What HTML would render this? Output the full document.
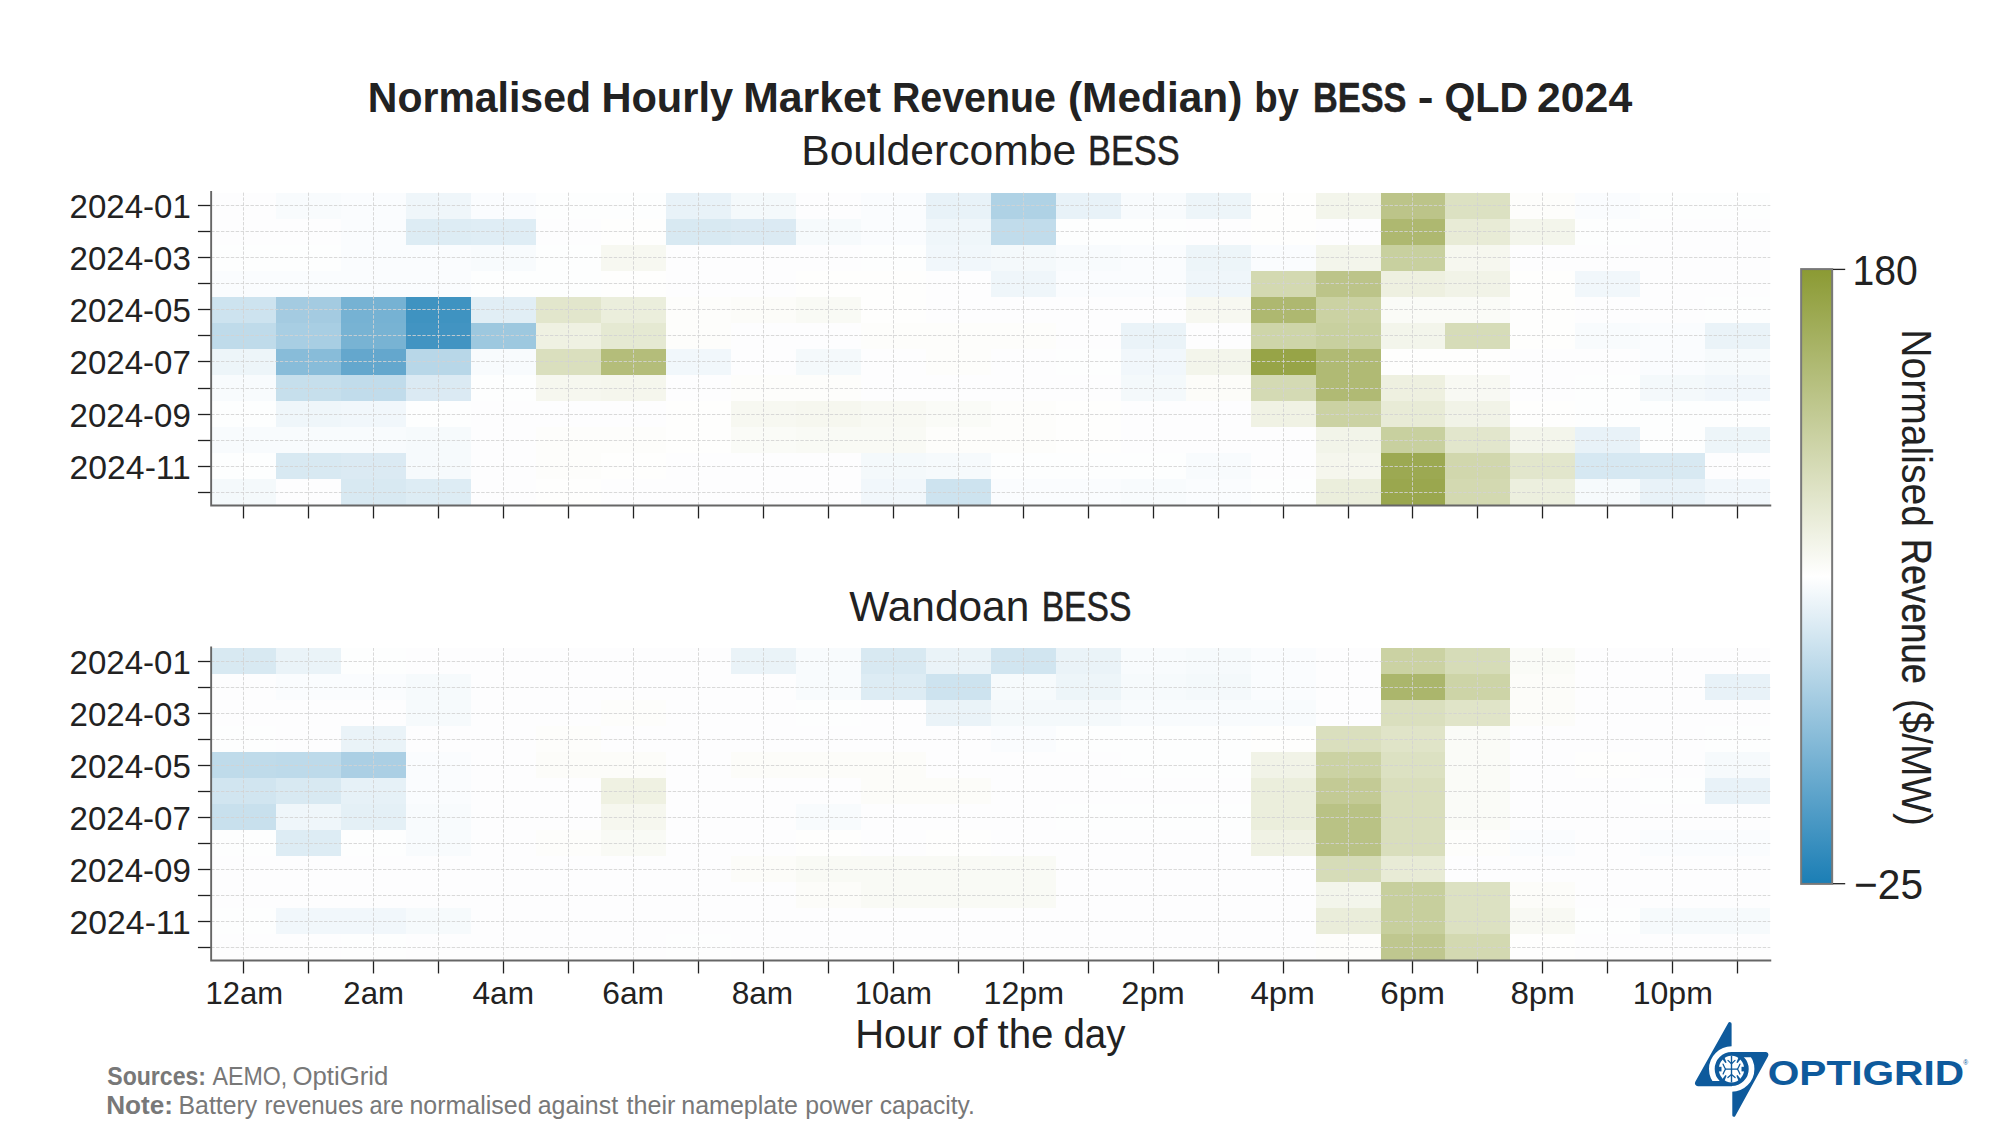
<!DOCTYPE html>
<html lang="en"><head><meta charset="utf-8">
<title>Normalised Hourly Market Revenue (Median) by BESS - QLD 2024</title>
<style>
html,body{margin:0;padding:0;background:#ffffff;}
body{width:2000px;height:1125px;overflow:hidden;}
svg{display:block;position:absolute;left:0;top:0;}
text{font-family:'Liberation Sans',sans-serif;fill:#222222;}
.grid line{stroke:#d2d2d2;stroke-opacity:0.9;stroke-width:0.95;stroke-dasharray:3.43 1.48;}
.tick line{stroke:#222222;stroke-width:1.3;}
.spine{stroke:#666666;stroke-width:1.9;fill:none;stroke-linecap:square;}
.foot{fill:#787878;}
</style></head><body>
<svg width="2000" height="1125" viewBox="0 0 2000 1125">
<defs>
<linearGradient id="cb" x1="0" y1="0" x2="0" y2="1">
<stop offset="0" stop-color="#8b9a33"/>
<stop offset="0.5" stop-color="#ffffff"/>
<stop offset="1" stop-color="#1b7eb5"/>
</linearGradient>
</defs>
<rect x="0" y="0" width="2000" height="1125" fill="#ffffff"/>
<text y="111.80" font-size="42" font-weight="bold"><tspan x="367.82" textLength="223.17" lengthAdjust="spacingAndGlyphs">Normalised</tspan> <tspan x="601.38" textLength="131.69" lengthAdjust="spacingAndGlyphs">Hourly</tspan> <tspan x="743.20" textLength="137.81" lengthAdjust="spacingAndGlyphs">Market</tspan> <tspan x="891.92" textLength="164.06" lengthAdjust="spacingAndGlyphs">Revenue</tspan> <tspan x="1067.98" textLength="174.40" lengthAdjust="spacingAndGlyphs">(Median)</tspan> <tspan x="1254.19" textLength="44.75" lengthAdjust="spacingAndGlyphs">by</tspan> <tspan x="1312.95" textLength="93.58" lengthAdjust="spacingAndGlyphs" stroke="#222222" stroke-width="0.43" stroke-linejoin="round">BESS</tspan> <tspan x="1417.83" textLength="15.73" lengthAdjust="spacingAndGlyphs">-</tspan> <tspan x="1444.55" textLength="83.65" lengthAdjust="spacingAndGlyphs">QLD</tspan> <tspan x="1537.07" textLength="95.12" lengthAdjust="spacingAndGlyphs">2024</tspan></text>
<text y="165.00" font-size="42.6"><tspan x="801.20" textLength="275.01" lengthAdjust="spacingAndGlyphs">Bouldercombe</tspan> <tspan x="1087.97" textLength="91.75" lengthAdjust="spacingAndGlyphs" stroke="#222222" stroke-width="0.46" stroke-linejoin="round">BESS</tspan></text>
<text y="620.60" font-size="42.6"><tspan x="849.25" textLength="180.00" lengthAdjust="spacingAndGlyphs">Wandoan</tspan> <tspan x="1041.63" textLength="89.86" lengthAdjust="spacingAndGlyphs" stroke="#222222" stroke-width="0.50" stroke-linejoin="round">BESS</tspan></text>
<text y="1048.00" font-size="40"><tspan x="855.25" textLength="86.65" lengthAdjust="spacingAndGlyphs">Hour</tspan> <tspan x="952.15" textLength="35.30" lengthAdjust="spacingAndGlyphs">of</tspan> <tspan x="997.50" textLength="55.97" lengthAdjust="spacingAndGlyphs">the</tspan> <tspan x="1063.52" textLength="61.92" lengthAdjust="spacingAndGlyphs">day</tspan></text>
<g class="heat" shape-rendering="crispEdges">
<rect x="211.15" y="192.60" width="1559.15" height="312.65" fill="#fdfdfe"/>
<rect x="276.11" y="192.60" width="64.96" height="26.05" fill="#f8fbfd"/>
<rect x="341.08" y="192.60" width="64.96" height="26.05" fill="#fafcfe"/>
<rect x="406.04" y="192.60" width="64.96" height="26.05" fill="#eff6fa"/>
<rect x="471.01" y="192.60" width="64.96" height="26.05" fill="#fafcfe"/>
<rect x="535.97" y="192.60" width="129.93" height="26.05" fill="#fdfefe"/>
<rect x="665.90" y="192.60" width="64.96" height="26.05" fill="#e8f2f8"/>
<rect x="730.87" y="192.60" width="64.96" height="26.05" fill="#f4f9fb"/>
<rect x="860.80" y="192.60" width="64.96" height="26.05" fill="#fafcfe"/>
<rect x="925.76" y="192.60" width="64.96" height="26.05" fill="#e8f2f8"/>
<rect x="990.72" y="192.60" width="64.96" height="26.05" fill="#afd2e5"/>
<rect x="1055.69" y="192.60" width="64.96" height="26.05" fill="#e8f2f8"/>
<rect x="1120.65" y="192.60" width="64.96" height="26.05" fill="#f8fbfd"/>
<rect x="1185.62" y="192.60" width="64.96" height="26.05" fill="#edf5f9"/>
<rect x="1250.58" y="192.60" width="64.96" height="26.05" fill="#fefefd"/>
<rect x="1315.55" y="192.60" width="64.96" height="26.05" fill="#f3f5eb"/>
<rect x="1380.51" y="192.60" width="64.96" height="26.05" fill="#bcc489"/>
<rect x="1445.48" y="192.60" width="64.96" height="26.05" fill="#dce1c2"/>
<rect x="1510.44" y="192.60" width="64.96" height="26.05" fill="#fdfdfb"/>
<rect x="1575.41" y="192.60" width="64.96" height="26.05" fill="#fafcfe"/>
<rect x="1640.37" y="192.60" width="129.93" height="26.05" fill="#fdfefe"/>
<rect x="341.08" y="218.65" width="64.96" height="26.05" fill="#fafcfe"/>
<rect x="406.04" y="218.65" width="64.96" height="26.05" fill="#ddecf4"/>
<rect x="471.01" y="218.65" width="64.96" height="26.05" fill="#dfedf5"/>
<rect x="600.94" y="218.65" width="64.96" height="26.05" fill="#fefefd"/>
<rect x="665.90" y="218.65" width="64.96" height="26.05" fill="#d8e9f2"/>
<rect x="730.87" y="218.65" width="64.96" height="26.05" fill="#dbeaf3"/>
<rect x="795.83" y="218.65" width="64.96" height="26.05" fill="#f6fafc"/>
<rect x="860.80" y="218.65" width="64.96" height="26.05" fill="#fafcfe"/>
<rect x="925.76" y="218.65" width="64.96" height="26.05" fill="#eff6fa"/>
<rect x="990.72" y="218.65" width="64.96" height="26.05" fill="#c1dceb"/>
<rect x="1055.69" y="218.65" width="129.93" height="26.05" fill="#fdfefe"/>
<rect x="1250.58" y="218.65" width="64.96" height="26.05" fill="#fefefd"/>
<rect x="1380.51" y="218.65" width="64.96" height="26.05" fill="#aeb870"/>
<rect x="1445.48" y="218.65" width="64.96" height="26.05" fill="#e8ebd6"/>
<rect x="1510.44" y="218.65" width="64.96" height="26.05" fill="#f3f5eb"/>
<rect x="1575.41" y="218.65" width="64.96" height="26.05" fill="#fdfefe"/>
<rect x="211.15" y="244.71" width="129.93" height="26.05" fill="#fdfefe"/>
<rect x="341.08" y="244.71" width="129.93" height="26.05" fill="#fafcfe"/>
<rect x="471.01" y="244.71" width="64.96" height="26.05" fill="#f8fbfd"/>
<rect x="535.97" y="244.71" width="64.96" height="26.05" fill="#fdfefe"/>
<rect x="600.94" y="244.71" width="64.96" height="26.05" fill="#f7f8f1"/>
<rect x="860.80" y="244.71" width="64.96" height="26.05" fill="#fdfefe"/>
<rect x="925.76" y="244.71" width="64.96" height="26.05" fill="#f1f7fb"/>
<rect x="990.72" y="244.71" width="64.96" height="26.05" fill="#f4f9fb"/>
<rect x="1055.69" y="244.71" width="64.96" height="26.05" fill="#f8fbfd"/>
<rect x="1120.65" y="244.71" width="64.96" height="26.05" fill="#fafcfe"/>
<rect x="1185.62" y="244.71" width="64.96" height="26.05" fill="#edf5f9"/>
<rect x="1250.58" y="244.71" width="64.96" height="26.05" fill="#fafcfe"/>
<rect x="1315.55" y="244.71" width="64.96" height="26.05" fill="#f3f5eb"/>
<rect x="1380.51" y="244.71" width="64.96" height="26.05" fill="#c8d09f"/>
<rect x="1445.48" y="244.71" width="64.96" height="26.05" fill="#f6f7ef"/>
<rect x="211.15" y="270.76" width="259.86" height="26.05" fill="#fafcfe"/>
<rect x="471.01" y="270.76" width="129.93" height="26.05" fill="#fdfefe"/>
<rect x="600.94" y="270.76" width="64.96" height="26.05" fill="#fefefd"/>
<rect x="795.83" y="270.76" width="129.93" height="26.05" fill="#fefefd"/>
<rect x="990.72" y="270.76" width="64.96" height="26.05" fill="#eff6fa"/>
<rect x="1055.69" y="270.76" width="129.93" height="26.05" fill="#fafcfe"/>
<rect x="1185.62" y="270.76" width="64.96" height="26.05" fill="#eff6fa"/>
<rect x="1250.58" y="270.76" width="64.96" height="26.05" fill="#d3d9b1"/>
<rect x="1315.55" y="270.76" width="64.96" height="26.05" fill="#bcc489"/>
<rect x="1380.51" y="270.76" width="64.96" height="26.05" fill="#eef0e0"/>
<rect x="1445.48" y="270.76" width="64.96" height="26.05" fill="#f1f3e7"/>
<rect x="1510.44" y="270.76" width="64.96" height="26.05" fill="#fefefd"/>
<rect x="1575.41" y="270.76" width="64.96" height="26.05" fill="#f1f7fb"/>
<rect x="211.15" y="296.82" width="64.96" height="26.05" fill="#cde3ef"/>
<rect x="276.11" y="296.82" width="64.96" height="26.05" fill="#a4cbe1"/>
<rect x="341.08" y="296.82" width="64.96" height="26.05" fill="#76b2d3"/>
<rect x="406.04" y="296.82" width="64.96" height="26.05" fill="#3f93c1"/>
<rect x="471.01" y="296.82" width="64.96" height="26.05" fill="#e1eef5"/>
<rect x="535.97" y="296.82" width="64.96" height="26.05" fill="#e2e6cc"/>
<rect x="600.94" y="296.82" width="64.96" height="26.05" fill="#ebeedc"/>
<rect x="665.90" y="296.82" width="64.96" height="26.05" fill="#fdfdfb"/>
<rect x="730.87" y="296.82" width="64.96" height="26.05" fill="#fcfcf9"/>
<rect x="795.83" y="296.82" width="64.96" height="26.05" fill="#f9faf5"/>
<rect x="860.80" y="296.82" width="64.96" height="26.05" fill="#fefefd"/>
<rect x="1185.62" y="296.82" width="64.96" height="26.05" fill="#f7f8f1"/>
<rect x="1250.58" y="296.82" width="64.96" height="26.05" fill="#aeb870"/>
<rect x="1315.55" y="296.82" width="64.96" height="26.05" fill="#cbd2a3"/>
<rect x="1380.51" y="296.82" width="129.93" height="26.05" fill="#fafbf7"/>
<rect x="1510.44" y="296.82" width="64.96" height="26.05" fill="#fefefd"/>
<rect x="1705.34" y="296.82" width="64.96" height="26.05" fill="#fdfefe"/>
<rect x="211.15" y="322.87" width="64.96" height="26.05" fill="#bfdbea"/>
<rect x="276.11" y="322.87" width="64.96" height="26.05" fill="#a8cee3"/>
<rect x="341.08" y="322.87" width="64.96" height="26.05" fill="#78b3d3"/>
<rect x="406.04" y="322.87" width="64.96" height="26.05" fill="#4294c2"/>
<rect x="471.01" y="322.87" width="64.96" height="26.05" fill="#9dc8df"/>
<rect x="535.97" y="322.87" width="64.96" height="26.05" fill="#eff1e2"/>
<rect x="600.94" y="322.87" width="64.96" height="26.05" fill="#e5e9d2"/>
<rect x="665.90" y="322.87" width="64.96" height="26.05" fill="#fdfdfb"/>
<rect x="860.80" y="322.87" width="194.89" height="26.05" fill="#fdfdfb"/>
<rect x="1120.65" y="322.87" width="64.96" height="26.05" fill="#eaf3f8"/>
<rect x="1250.58" y="322.87" width="64.96" height="26.05" fill="#ced5a9"/>
<rect x="1315.55" y="322.87" width="64.96" height="26.05" fill="#c8d09f"/>
<rect x="1380.51" y="322.87" width="64.96" height="26.05" fill="#f3f5eb"/>
<rect x="1445.48" y="322.87" width="64.96" height="26.05" fill="#d6dcb8"/>
<rect x="1510.44" y="322.87" width="64.96" height="26.05" fill="#fefefd"/>
<rect x="1575.41" y="322.87" width="64.96" height="26.05" fill="#f8fbfd"/>
<rect x="1640.37" y="322.87" width="64.96" height="26.05" fill="#fafcfe"/>
<rect x="1705.34" y="322.87" width="64.96" height="26.05" fill="#eaf3f8"/>
<rect x="211.15" y="348.92" width="64.96" height="26.05" fill="#edf5f9"/>
<rect x="276.11" y="348.92" width="64.96" height="26.05" fill="#88bcd9"/>
<rect x="341.08" y="348.92" width="64.96" height="26.05" fill="#64a7cd"/>
<rect x="406.04" y="348.92" width="64.96" height="26.05" fill="#b8d7e8"/>
<rect x="471.01" y="348.92" width="64.96" height="26.05" fill="#f8fbfd"/>
<rect x="535.97" y="348.92" width="64.96" height="26.05" fill="#dadfbe"/>
<rect x="600.94" y="348.92" width="64.96" height="26.05" fill="#b4bd7a"/>
<rect x="665.90" y="348.92" width="64.96" height="26.05" fill="#f1f7fb"/>
<rect x="795.83" y="348.92" width="64.96" height="26.05" fill="#f4f9fb"/>
<rect x="925.76" y="348.92" width="64.96" height="26.05" fill="#fdfdfb"/>
<rect x="1055.69" y="348.92" width="64.96" height="26.05" fill="#fdfefe"/>
<rect x="1120.65" y="348.92" width="64.96" height="26.05" fill="#f1f7fb"/>
<rect x="1185.62" y="348.92" width="64.96" height="26.05" fill="#f3f5eb"/>
<rect x="1250.58" y="348.92" width="64.96" height="26.05" fill="#97a447"/>
<rect x="1315.55" y="348.92" width="64.96" height="26.05" fill="#b0ba74"/>
<rect x="1380.51" y="348.92" width="129.93" height="26.05" fill="#fefefd"/>
<rect x="1640.37" y="348.92" width="64.96" height="26.05" fill="#fafcfe"/>
<rect x="1705.34" y="348.92" width="64.96" height="26.05" fill="#f6fafc"/>
<rect x="211.15" y="374.98" width="64.96" height="26.05" fill="#f8fbfd"/>
<rect x="276.11" y="374.98" width="64.96" height="26.05" fill="#c6dfec"/>
<rect x="341.08" y="374.98" width="64.96" height="26.05" fill="#c1dceb"/>
<rect x="406.04" y="374.98" width="64.96" height="26.05" fill="#dbeaf3"/>
<rect x="471.01" y="374.98" width="64.96" height="26.05" fill="#fdfefe"/>
<rect x="535.97" y="374.98" width="64.96" height="26.05" fill="#f6f7ef"/>
<rect x="600.94" y="374.98" width="64.96" height="26.05" fill="#f5f6ed"/>
<rect x="730.87" y="374.98" width="129.93" height="26.05" fill="#fdfdfb"/>
<rect x="1120.65" y="374.98" width="64.96" height="26.05" fill="#f4f9fb"/>
<rect x="1185.62" y="374.98" width="64.96" height="26.05" fill="#fcfcf9"/>
<rect x="1250.58" y="374.98" width="64.96" height="26.05" fill="#d4dab4"/>
<rect x="1315.55" y="374.98" width="64.96" height="26.05" fill="#b0ba74"/>
<rect x="1380.51" y="374.98" width="64.96" height="26.05" fill="#eef0e0"/>
<rect x="1445.48" y="374.98" width="64.96" height="26.05" fill="#f8f9f3"/>
<rect x="1575.41" y="374.98" width="64.96" height="26.05" fill="#fdfefe"/>
<rect x="1640.37" y="374.98" width="64.96" height="26.05" fill="#f4f9fb"/>
<rect x="1705.34" y="374.98" width="64.96" height="26.05" fill="#f1f7fb"/>
<rect x="211.15" y="401.03" width="64.96" height="26.05" fill="#fdfefe"/>
<rect x="276.11" y="401.03" width="64.96" height="26.05" fill="#eff6fa"/>
<rect x="341.08" y="401.03" width="64.96" height="26.05" fill="#f1f7fb"/>
<rect x="406.04" y="401.03" width="64.96" height="26.05" fill="#fdfefe"/>
<rect x="665.90" y="401.03" width="64.96" height="26.05" fill="#fefefd"/>
<rect x="730.87" y="401.03" width="64.96" height="26.05" fill="#f7f8f1"/>
<rect x="795.83" y="401.03" width="64.96" height="26.05" fill="#f6f7ef"/>
<rect x="860.80" y="401.03" width="64.96" height="26.05" fill="#f8f9f3"/>
<rect x="925.76" y="401.03" width="64.96" height="26.05" fill="#fafbf7"/>
<rect x="990.72" y="401.03" width="64.96" height="26.05" fill="#fdfdfb"/>
<rect x="1055.69" y="401.03" width="64.96" height="26.05" fill="#fefefd"/>
<rect x="1250.58" y="401.03" width="64.96" height="26.05" fill="#f0f2e4"/>
<rect x="1315.55" y="401.03" width="64.96" height="26.05" fill="#cbd2a3"/>
<rect x="1380.51" y="401.03" width="64.96" height="26.05" fill="#e8ebd6"/>
<rect x="1445.48" y="401.03" width="64.96" height="26.05" fill="#f1f3e7"/>
<rect x="1510.44" y="401.03" width="64.96" height="26.05" fill="#fefefd"/>
<rect x="1575.41" y="401.03" width="194.89" height="26.05" fill="#fdfefe"/>
<rect x="211.15" y="427.09" width="194.89" height="26.05" fill="#f8fbfd"/>
<rect x="406.04" y="427.09" width="64.96" height="26.05" fill="#f6fafc"/>
<rect x="535.97" y="427.09" width="129.93" height="26.05" fill="#fdfdfb"/>
<rect x="665.90" y="427.09" width="64.96" height="26.05" fill="#fefefd"/>
<rect x="730.87" y="427.09" width="64.96" height="26.05" fill="#fafbf7"/>
<rect x="795.83" y="427.09" width="129.93" height="26.05" fill="#f9faf5"/>
<rect x="925.76" y="427.09" width="129.93" height="26.05" fill="#fdfdfb"/>
<rect x="1055.69" y="427.09" width="64.96" height="26.05" fill="#fefefd"/>
<rect x="1315.55" y="427.09" width="64.96" height="26.05" fill="#f2f4e9"/>
<rect x="1380.51" y="427.09" width="64.96" height="26.05" fill="#c8d09f"/>
<rect x="1445.48" y="427.09" width="64.96" height="26.05" fill="#e2e6cc"/>
<rect x="1510.44" y="427.09" width="64.96" height="26.05" fill="#f3f5eb"/>
<rect x="1575.41" y="427.09" width="64.96" height="26.05" fill="#e8f2f8"/>
<rect x="1640.37" y="427.09" width="64.96" height="26.05" fill="#fdfefe"/>
<rect x="1705.34" y="427.09" width="64.96" height="26.05" fill="#edf5f9"/>
<rect x="211.15" y="453.14" width="64.96" height="26.05" fill="#fdfefe"/>
<rect x="276.11" y="453.14" width="64.96" height="26.05" fill="#d8e9f2"/>
<rect x="341.08" y="453.14" width="64.96" height="26.05" fill="#dbeaf3"/>
<rect x="406.04" y="453.14" width="64.96" height="26.05" fill="#f6fafc"/>
<rect x="535.97" y="453.14" width="64.96" height="26.05" fill="#fdfdfb"/>
<rect x="600.94" y="453.14" width="64.96" height="26.05" fill="#fefefd"/>
<rect x="860.80" y="453.14" width="64.96" height="26.05" fill="#f4f9fb"/>
<rect x="925.76" y="453.14" width="64.96" height="26.05" fill="#f6fafc"/>
<rect x="990.72" y="453.14" width="194.89" height="26.05" fill="#fdfefe"/>
<rect x="1185.62" y="453.14" width="64.96" height="26.05" fill="#f8fbfd"/>
<rect x="1315.55" y="453.14" width="64.96" height="26.05" fill="#f5f6ed"/>
<rect x="1380.51" y="453.14" width="64.96" height="26.05" fill="#9ca952"/>
<rect x="1445.48" y="453.14" width="64.96" height="26.05" fill="#d1d7ad"/>
<rect x="1510.44" y="453.14" width="64.96" height="26.05" fill="#e2e6cc"/>
<rect x="1575.41" y="453.14" width="64.96" height="26.05" fill="#d6e8f2"/>
<rect x="1640.37" y="453.14" width="64.96" height="26.05" fill="#d8e9f2"/>
<rect x="211.15" y="479.20" width="64.96" height="26.05" fill="#f4f9fb"/>
<rect x="341.08" y="479.20" width="64.96" height="26.05" fill="#d8e9f2"/>
<rect x="406.04" y="479.20" width="64.96" height="26.05" fill="#ddecf4"/>
<rect x="535.97" y="479.20" width="64.96" height="26.05" fill="#fefefd"/>
<rect x="860.80" y="479.20" width="64.96" height="26.05" fill="#f1f7fb"/>
<rect x="925.76" y="479.20" width="64.96" height="26.05" fill="#cde3ef"/>
<rect x="990.72" y="479.20" width="129.93" height="26.05" fill="#fafcfe"/>
<rect x="1120.65" y="479.20" width="64.96" height="26.05" fill="#f8fbfd"/>
<rect x="1185.62" y="479.20" width="64.96" height="26.05" fill="#fafcfe"/>
<rect x="1250.58" y="479.20" width="64.96" height="26.05" fill="#fdfefe"/>
<rect x="1315.55" y="479.20" width="64.96" height="26.05" fill="#ebeedc"/>
<rect x="1380.51" y="479.20" width="64.96" height="26.05" fill="#9aa74e"/>
<rect x="1445.48" y="479.20" width="64.96" height="26.05" fill="#d3d9b1"/>
<rect x="1510.44" y="479.20" width="64.96" height="26.05" fill="#ecefde"/>
<rect x="1575.41" y="479.20" width="64.96" height="26.05" fill="#f6fafc"/>
<rect x="1640.37" y="479.20" width="64.96" height="26.05" fill="#e8f2f8"/>
<rect x="1705.34" y="479.20" width="64.96" height="26.05" fill="#f1f7fb"/>
</g>
<g class="grid">
<line x1="243.50" y1="505.25" x2="243.50" y2="192.60"/>
<line x1="308.50" y1="505.25" x2="308.50" y2="192.60"/>
<line x1="373.50" y1="505.25" x2="373.50" y2="192.60"/>
<line x1="438.50" y1="505.25" x2="438.50" y2="192.60"/>
<line x1="503.50" y1="505.25" x2="503.50" y2="192.60"/>
<line x1="568.50" y1="505.25" x2="568.50" y2="192.60"/>
<line x1="633.50" y1="505.25" x2="633.50" y2="192.60"/>
<line x1="698.50" y1="505.25" x2="698.50" y2="192.60"/>
<line x1="763.50" y1="505.25" x2="763.50" y2="192.60"/>
<line x1="828.50" y1="505.25" x2="828.50" y2="192.60"/>
<line x1="893.50" y1="505.25" x2="893.50" y2="192.60"/>
<line x1="958.50" y1="505.25" x2="958.50" y2="192.60"/>
<line x1="1023.50" y1="505.25" x2="1023.50" y2="192.60"/>
<line x1="1088.50" y1="505.25" x2="1088.50" y2="192.60"/>
<line x1="1153.50" y1="505.25" x2="1153.50" y2="192.60"/>
<line x1="1218.50" y1="505.25" x2="1218.50" y2="192.60"/>
<line x1="1283.50" y1="505.25" x2="1283.50" y2="192.60"/>
<line x1="1348.50" y1="505.25" x2="1348.50" y2="192.60"/>
<line x1="1412.50" y1="505.25" x2="1412.50" y2="192.60"/>
<line x1="1477.50" y1="505.25" x2="1477.50" y2="192.60"/>
<line x1="1542.50" y1="505.25" x2="1542.50" y2="192.60"/>
<line x1="1607.50" y1="505.25" x2="1607.50" y2="192.60"/>
<line x1="1672.50" y1="505.25" x2="1672.50" y2="192.60"/>
<line x1="1737.50" y1="505.25" x2="1737.50" y2="192.60"/>
<line x1="211.15" y1="205.50" x2="1770.30" y2="205.50"/>
<line x1="211.15" y1="231.50" x2="1770.30" y2="231.50"/>
<line x1="211.15" y1="257.50" x2="1770.30" y2="257.50"/>
<line x1="211.15" y1="283.50" x2="1770.30" y2="283.50"/>
<line x1="211.15" y1="309.50" x2="1770.30" y2="309.50"/>
<line x1="211.15" y1="335.50" x2="1770.30" y2="335.50"/>
<line x1="211.15" y1="361.50" x2="1770.30" y2="361.50"/>
<line x1="211.15" y1="388.50" x2="1770.30" y2="388.50"/>
<line x1="211.15" y1="414.50" x2="1770.30" y2="414.50"/>
<line x1="211.15" y1="440.50" x2="1770.30" y2="440.50"/>
<line x1="211.15" y1="466.50" x2="1770.30" y2="466.50"/>
<line x1="211.15" y1="492.50" x2="1770.30" y2="492.50"/>
</g>
<g class="tick">
<line x1="243.50" y1="505.25" x2="243.50" y2="518.45"/>
<line x1="308.50" y1="505.25" x2="308.50" y2="518.45"/>
<line x1="373.50" y1="505.25" x2="373.50" y2="518.45"/>
<line x1="438.50" y1="505.25" x2="438.50" y2="518.45"/>
<line x1="503.50" y1="505.25" x2="503.50" y2="518.45"/>
<line x1="568.50" y1="505.25" x2="568.50" y2="518.45"/>
<line x1="633.50" y1="505.25" x2="633.50" y2="518.45"/>
<line x1="698.50" y1="505.25" x2="698.50" y2="518.45"/>
<line x1="763.50" y1="505.25" x2="763.50" y2="518.45"/>
<line x1="828.50" y1="505.25" x2="828.50" y2="518.45"/>
<line x1="893.50" y1="505.25" x2="893.50" y2="518.45"/>
<line x1="958.50" y1="505.25" x2="958.50" y2="518.45"/>
<line x1="1023.50" y1="505.25" x2="1023.50" y2="518.45"/>
<line x1="1088.50" y1="505.25" x2="1088.50" y2="518.45"/>
<line x1="1153.50" y1="505.25" x2="1153.50" y2="518.45"/>
<line x1="1218.50" y1="505.25" x2="1218.50" y2="518.45"/>
<line x1="1283.50" y1="505.25" x2="1283.50" y2="518.45"/>
<line x1="1348.50" y1="505.25" x2="1348.50" y2="518.45"/>
<line x1="1412.50" y1="505.25" x2="1412.50" y2="518.45"/>
<line x1="1477.50" y1="505.25" x2="1477.50" y2="518.45"/>
<line x1="1542.50" y1="505.25" x2="1542.50" y2="518.45"/>
<line x1="1607.50" y1="505.25" x2="1607.50" y2="518.45"/>
<line x1="1672.50" y1="505.25" x2="1672.50" y2="518.45"/>
<line x1="1737.50" y1="505.25" x2="1737.50" y2="518.45"/>
<line x1="197.95" y1="205.50" x2="211.15" y2="205.50"/>
<line x1="197.95" y1="231.50" x2="211.15" y2="231.50"/>
<line x1="197.95" y1="257.50" x2="211.15" y2="257.50"/>
<line x1="197.95" y1="283.50" x2="211.15" y2="283.50"/>
<line x1="197.95" y1="309.50" x2="211.15" y2="309.50"/>
<line x1="197.95" y1="335.50" x2="211.15" y2="335.50"/>
<line x1="197.95" y1="361.50" x2="211.15" y2="361.50"/>
<line x1="197.95" y1="388.50" x2="211.15" y2="388.50"/>
<line x1="197.95" y1="414.50" x2="211.15" y2="414.50"/>
<line x1="197.95" y1="440.50" x2="211.15" y2="440.50"/>
<line x1="197.95" y1="466.50" x2="211.15" y2="466.50"/>
<line x1="197.95" y1="492.50" x2="211.15" y2="492.50"/>
</g>
<path class="spine" d="M211.15 192.00V505.50H1770.30"/>
<g class="ylab">
<text x="69.60" y="218.13" font-size="34.00" textLength="121.29" lengthAdjust="spacingAndGlyphs">2024-01</text>
<text x="69.60" y="270.24" font-size="34.00" textLength="121.29" lengthAdjust="spacingAndGlyphs">2024-03</text>
<text x="69.60" y="322.34" font-size="34.00" textLength="121.29" lengthAdjust="spacingAndGlyphs">2024-05</text>
<text x="69.60" y="374.45" font-size="34.00" textLength="121.29" lengthAdjust="spacingAndGlyphs">2024-07</text>
<text x="69.60" y="426.56" font-size="34.00" textLength="121.29" lengthAdjust="spacingAndGlyphs">2024-09</text>
<text x="69.60" y="478.67" font-size="34.00" textLength="121.29" lengthAdjust="spacingAndGlyphs">2024-11</text>
</g>
<g class="heat" shape-rendering="crispEdges">
<rect x="211.15" y="648.00" width="1559.15" height="312.25" fill="#fdfdfe"/>
<rect x="211.15" y="648.00" width="64.96" height="26.02" fill="#d8e9f2"/>
<rect x="276.11" y="648.00" width="64.96" height="26.02" fill="#eaf3f8"/>
<rect x="341.08" y="648.00" width="64.96" height="26.02" fill="#fdfefe"/>
<rect x="730.87" y="648.00" width="64.96" height="26.02" fill="#eaf3f8"/>
<rect x="795.83" y="648.00" width="64.96" height="26.02" fill="#f8fbfd"/>
<rect x="860.80" y="648.00" width="64.96" height="26.02" fill="#d8e9f2"/>
<rect x="925.76" y="648.00" width="64.96" height="26.02" fill="#eaf3f8"/>
<rect x="990.72" y="648.00" width="64.96" height="26.02" fill="#d1e5f0"/>
<rect x="1055.69" y="648.00" width="64.96" height="26.02" fill="#eaf3f8"/>
<rect x="1120.65" y="648.00" width="64.96" height="26.02" fill="#f8fbfd"/>
<rect x="1185.62" y="648.00" width="64.96" height="26.02" fill="#f6fafc"/>
<rect x="1250.58" y="648.00" width="64.96" height="26.02" fill="#fafcfe"/>
<rect x="1380.51" y="648.00" width="64.96" height="26.02" fill="#cbd2a3"/>
<rect x="1445.48" y="648.00" width="64.96" height="26.02" fill="#d6dcb8"/>
<rect x="1510.44" y="648.00" width="64.96" height="26.02" fill="#fafbf7"/>
<rect x="276.11" y="674.02" width="129.93" height="26.02" fill="#fafcfe"/>
<rect x="406.04" y="674.02" width="64.96" height="26.02" fill="#f6fafc"/>
<rect x="795.83" y="674.02" width="64.96" height="26.02" fill="#f8fbfd"/>
<rect x="860.80" y="674.02" width="64.96" height="26.02" fill="#ddecf4"/>
<rect x="925.76" y="674.02" width="64.96" height="26.02" fill="#cde3ef"/>
<rect x="990.72" y="674.02" width="64.96" height="26.02" fill="#f6fafc"/>
<rect x="1055.69" y="674.02" width="64.96" height="26.02" fill="#edf5f9"/>
<rect x="1120.65" y="674.02" width="64.96" height="26.02" fill="#f6fafc"/>
<rect x="1185.62" y="674.02" width="64.96" height="26.02" fill="#f4f9fb"/>
<rect x="1250.58" y="674.02" width="64.96" height="26.02" fill="#fafcfe"/>
<rect x="1380.51" y="674.02" width="64.96" height="26.02" fill="#abb66c"/>
<rect x="1445.48" y="674.02" width="64.96" height="26.02" fill="#cdd4a7"/>
<rect x="1510.44" y="674.02" width="64.96" height="26.02" fill="#fcfcf9"/>
<rect x="1705.34" y="674.02" width="64.96" height="26.02" fill="#e8f2f8"/>
<rect x="406.04" y="700.04" width="64.96" height="26.02" fill="#f6fafc"/>
<rect x="600.94" y="700.04" width="64.96" height="26.02" fill="#fdfdfb"/>
<rect x="795.83" y="700.04" width="64.96" height="26.02" fill="#fdfefe"/>
<rect x="925.76" y="700.04" width="64.96" height="26.02" fill="#eaf3f8"/>
<rect x="990.72" y="700.04" width="129.93" height="26.02" fill="#f4f9fb"/>
<rect x="1120.65" y="700.04" width="194.89" height="26.02" fill="#f8fbfd"/>
<rect x="1380.51" y="700.04" width="64.96" height="26.02" fill="#dadfbe"/>
<rect x="1445.48" y="700.04" width="64.96" height="26.02" fill="#e0e4c8"/>
<rect x="1510.44" y="700.04" width="64.96" height="26.02" fill="#fcfcf9"/>
<rect x="211.15" y="726.06" width="64.96" height="26.02" fill="#fdfefe"/>
<rect x="341.08" y="726.06" width="64.96" height="26.02" fill="#eaf3f8"/>
<rect x="535.97" y="726.06" width="64.96" height="26.02" fill="#fdfdfb"/>
<rect x="990.72" y="726.06" width="64.96" height="26.02" fill="#fafcfe"/>
<rect x="1055.69" y="726.06" width="194.89" height="26.02" fill="#fdfefe"/>
<rect x="1250.58" y="726.06" width="64.96" height="26.02" fill="#fefefd"/>
<rect x="1315.55" y="726.06" width="64.96" height="26.02" fill="#dadfbe"/>
<rect x="1380.51" y="726.06" width="64.96" height="26.02" fill="#e0e4c8"/>
<rect x="1445.48" y="726.06" width="64.96" height="26.02" fill="#fafbf7"/>
<rect x="1705.34" y="726.06" width="64.96" height="26.02" fill="#fdfefe"/>
<rect x="211.15" y="752.08" width="64.96" height="26.02" fill="#bfdbea"/>
<rect x="276.11" y="752.08" width="64.96" height="26.02" fill="#bddaea"/>
<rect x="341.08" y="752.08" width="64.96" height="26.02" fill="#abcfe4"/>
<rect x="406.04" y="752.08" width="64.96" height="26.02" fill="#fafcfe"/>
<rect x="535.97" y="752.08" width="129.93" height="26.02" fill="#fcfcf9"/>
<rect x="730.87" y="752.08" width="194.89" height="26.02" fill="#fcfcf9"/>
<rect x="1120.65" y="752.08" width="129.93" height="26.02" fill="#fdfefe"/>
<rect x="1250.58" y="752.08" width="64.96" height="26.02" fill="#f1f3e7"/>
<rect x="1315.55" y="752.08" width="64.96" height="26.02" fill="#cbd2a3"/>
<rect x="1380.51" y="752.08" width="64.96" height="26.02" fill="#dce1c2"/>
<rect x="1445.48" y="752.08" width="64.96" height="26.02" fill="#fafbf7"/>
<rect x="1575.41" y="752.08" width="64.96" height="26.02" fill="#fefefd"/>
<rect x="1705.34" y="752.08" width="64.96" height="26.02" fill="#f6fafc"/>
<rect x="211.15" y="778.10" width="64.96" height="26.02" fill="#d1e5f0"/>
<rect x="276.11" y="778.10" width="64.96" height="26.02" fill="#d8e9f2"/>
<rect x="341.08" y="778.10" width="64.96" height="26.02" fill="#e6f1f7"/>
<rect x="406.04" y="778.10" width="64.96" height="26.02" fill="#fafcfe"/>
<rect x="600.94" y="778.10" width="64.96" height="26.02" fill="#eff1e2"/>
<rect x="860.80" y="778.10" width="129.93" height="26.02" fill="#fcfcf9"/>
<rect x="1250.58" y="778.10" width="64.96" height="26.02" fill="#ebeedc"/>
<rect x="1315.55" y="778.10" width="64.96" height="26.02" fill="#c3ca95"/>
<rect x="1380.51" y="778.10" width="64.96" height="26.02" fill="#d9debc"/>
<rect x="1445.48" y="778.10" width="64.96" height="26.02" fill="#fafbf7"/>
<rect x="1640.37" y="778.10" width="64.96" height="26.02" fill="#fdfefe"/>
<rect x="1705.34" y="778.10" width="64.96" height="26.02" fill="#e8f2f8"/>
<rect x="211.15" y="804.12" width="64.96" height="26.02" fill="#c8e0ed"/>
<rect x="276.11" y="804.12" width="64.96" height="26.02" fill="#eff6fa"/>
<rect x="341.08" y="804.12" width="64.96" height="26.02" fill="#e4f0f6"/>
<rect x="406.04" y="804.12" width="64.96" height="26.02" fill="#f8fbfd"/>
<rect x="600.94" y="804.12" width="64.96" height="26.02" fill="#f6f7ef"/>
<rect x="795.83" y="804.12" width="64.96" height="26.02" fill="#f8fbfd"/>
<rect x="1055.69" y="804.12" width="194.89" height="26.02" fill="#fdfefe"/>
<rect x="1250.58" y="804.12" width="64.96" height="26.02" fill="#ebeedc"/>
<rect x="1315.55" y="804.12" width="64.96" height="26.02" fill="#b9c285"/>
<rect x="1380.51" y="804.12" width="64.96" height="26.02" fill="#d9debc"/>
<rect x="1445.48" y="804.12" width="64.96" height="26.02" fill="#fafbf7"/>
<rect x="211.15" y="830.15" width="64.96" height="26.02" fill="#fdfefe"/>
<rect x="276.11" y="830.15" width="64.96" height="26.02" fill="#ddecf4"/>
<rect x="341.08" y="830.15" width="64.96" height="26.02" fill="#fdfefe"/>
<rect x="406.04" y="830.15" width="64.96" height="26.02" fill="#f8fbfd"/>
<rect x="535.97" y="830.15" width="64.96" height="26.02" fill="#fdfdfb"/>
<rect x="600.94" y="830.15" width="64.96" height="26.02" fill="#f9faf5"/>
<rect x="795.83" y="830.15" width="64.96" height="26.02" fill="#fefefd"/>
<rect x="925.76" y="830.15" width="64.96" height="26.02" fill="#fefefd"/>
<rect x="1250.58" y="830.15" width="64.96" height="26.02" fill="#f0f2e4"/>
<rect x="1315.55" y="830.15" width="64.96" height="26.02" fill="#b9c285"/>
<rect x="1380.51" y="830.15" width="64.96" height="26.02" fill="#d9debc"/>
<rect x="1445.48" y="830.15" width="64.96" height="26.02" fill="#fdfdfb"/>
<rect x="1510.44" y="830.15" width="64.96" height="26.02" fill="#fafcfe"/>
<rect x="1640.37" y="830.15" width="129.93" height="26.02" fill="#fafcfe"/>
<rect x="730.87" y="856.17" width="64.96" height="26.02" fill="#fcfcf9"/>
<rect x="795.83" y="856.17" width="259.86" height="26.02" fill="#f9faf5"/>
<rect x="1315.55" y="856.17" width="64.96" height="26.02" fill="#d6dcb8"/>
<rect x="1380.51" y="856.17" width="64.96" height="26.02" fill="#e8ebd6"/>
<rect x="795.83" y="882.19" width="64.96" height="26.02" fill="#fcfcf9"/>
<rect x="860.80" y="882.19" width="194.89" height="26.02" fill="#f9faf5"/>
<rect x="1315.55" y="882.19" width="64.96" height="26.02" fill="#f3f5eb"/>
<rect x="1380.51" y="882.19" width="64.96" height="26.02" fill="#c7cf9d"/>
<rect x="1445.48" y="882.19" width="64.96" height="26.02" fill="#dce1c2"/>
<rect x="1510.44" y="882.19" width="64.96" height="26.02" fill="#fcfcf9"/>
<rect x="211.15" y="908.21" width="64.96" height="26.02" fill="#fdfefe"/>
<rect x="276.11" y="908.21" width="129.93" height="26.02" fill="#f1f7fb"/>
<rect x="406.04" y="908.21" width="64.96" height="26.02" fill="#f6fafc"/>
<rect x="1315.55" y="908.21" width="64.96" height="26.02" fill="#eaedda"/>
<rect x="1380.51" y="908.21" width="64.96" height="26.02" fill="#c7cf9d"/>
<rect x="1445.48" y="908.21" width="64.96" height="26.02" fill="#dce1c2"/>
<rect x="1510.44" y="908.21" width="64.96" height="26.02" fill="#f8f9f3"/>
<rect x="1575.41" y="908.21" width="64.96" height="26.02" fill="#fdfefe"/>
<rect x="1640.37" y="908.21" width="129.93" height="26.02" fill="#f6fafc"/>
<rect x="341.08" y="934.23" width="64.96" height="26.02" fill="#fdfefe"/>
<rect x="665.90" y="934.23" width="64.96" height="26.02" fill="#fdfefe"/>
<rect x="1315.55" y="934.23" width="64.96" height="26.02" fill="#fdfdfb"/>
<rect x="1380.51" y="934.23" width="64.96" height="26.02" fill="#bfc78f"/>
<rect x="1445.48" y="934.23" width="64.96" height="26.02" fill="#d3d9b1"/>
<rect x="1510.44" y="934.23" width="64.96" height="26.02" fill="#fefefd"/>
</g>
<g class="grid">
<line x1="243.50" y1="960.25" x2="243.50" y2="648.00"/>
<line x1="308.50" y1="960.25" x2="308.50" y2="648.00"/>
<line x1="373.50" y1="960.25" x2="373.50" y2="648.00"/>
<line x1="438.50" y1="960.25" x2="438.50" y2="648.00"/>
<line x1="503.50" y1="960.25" x2="503.50" y2="648.00"/>
<line x1="568.50" y1="960.25" x2="568.50" y2="648.00"/>
<line x1="633.50" y1="960.25" x2="633.50" y2="648.00"/>
<line x1="698.50" y1="960.25" x2="698.50" y2="648.00"/>
<line x1="763.50" y1="960.25" x2="763.50" y2="648.00"/>
<line x1="828.50" y1="960.25" x2="828.50" y2="648.00"/>
<line x1="893.50" y1="960.25" x2="893.50" y2="648.00"/>
<line x1="958.50" y1="960.25" x2="958.50" y2="648.00"/>
<line x1="1023.50" y1="960.25" x2="1023.50" y2="648.00"/>
<line x1="1088.50" y1="960.25" x2="1088.50" y2="648.00"/>
<line x1="1153.50" y1="960.25" x2="1153.50" y2="648.00"/>
<line x1="1218.50" y1="960.25" x2="1218.50" y2="648.00"/>
<line x1="1283.50" y1="960.25" x2="1283.50" y2="648.00"/>
<line x1="1348.50" y1="960.25" x2="1348.50" y2="648.00"/>
<line x1="1412.50" y1="960.25" x2="1412.50" y2="648.00"/>
<line x1="1477.50" y1="960.25" x2="1477.50" y2="648.00"/>
<line x1="1542.50" y1="960.25" x2="1542.50" y2="648.00"/>
<line x1="1607.50" y1="960.25" x2="1607.50" y2="648.00"/>
<line x1="1672.50" y1="960.25" x2="1672.50" y2="648.00"/>
<line x1="1737.50" y1="960.25" x2="1737.50" y2="648.00"/>
<line x1="211.15" y1="661.50" x2="1770.30" y2="661.50"/>
<line x1="211.15" y1="687.50" x2="1770.30" y2="687.50"/>
<line x1="211.15" y1="713.50" x2="1770.30" y2="713.50"/>
<line x1="211.15" y1="739.50" x2="1770.30" y2="739.50"/>
<line x1="211.15" y1="765.50" x2="1770.30" y2="765.50"/>
<line x1="211.15" y1="791.50" x2="1770.30" y2="791.50"/>
<line x1="211.15" y1="817.50" x2="1770.30" y2="817.50"/>
<line x1="211.15" y1="843.50" x2="1770.30" y2="843.50"/>
<line x1="211.15" y1="869.50" x2="1770.30" y2="869.50"/>
<line x1="211.15" y1="895.50" x2="1770.30" y2="895.50"/>
<line x1="211.15" y1="921.50" x2="1770.30" y2="921.50"/>
<line x1="211.15" y1="947.50" x2="1770.30" y2="947.50"/>
</g>
<g class="tick">
<line x1="243.50" y1="960.25" x2="243.50" y2="973.45"/>
<line x1="308.50" y1="960.25" x2="308.50" y2="973.45"/>
<line x1="373.50" y1="960.25" x2="373.50" y2="973.45"/>
<line x1="438.50" y1="960.25" x2="438.50" y2="973.45"/>
<line x1="503.50" y1="960.25" x2="503.50" y2="973.45"/>
<line x1="568.50" y1="960.25" x2="568.50" y2="973.45"/>
<line x1="633.50" y1="960.25" x2="633.50" y2="973.45"/>
<line x1="698.50" y1="960.25" x2="698.50" y2="973.45"/>
<line x1="763.50" y1="960.25" x2="763.50" y2="973.45"/>
<line x1="828.50" y1="960.25" x2="828.50" y2="973.45"/>
<line x1="893.50" y1="960.25" x2="893.50" y2="973.45"/>
<line x1="958.50" y1="960.25" x2="958.50" y2="973.45"/>
<line x1="1023.50" y1="960.25" x2="1023.50" y2="973.45"/>
<line x1="1088.50" y1="960.25" x2="1088.50" y2="973.45"/>
<line x1="1153.50" y1="960.25" x2="1153.50" y2="973.45"/>
<line x1="1218.50" y1="960.25" x2="1218.50" y2="973.45"/>
<line x1="1283.50" y1="960.25" x2="1283.50" y2="973.45"/>
<line x1="1348.50" y1="960.25" x2="1348.50" y2="973.45"/>
<line x1="1412.50" y1="960.25" x2="1412.50" y2="973.45"/>
<line x1="1477.50" y1="960.25" x2="1477.50" y2="973.45"/>
<line x1="1542.50" y1="960.25" x2="1542.50" y2="973.45"/>
<line x1="1607.50" y1="960.25" x2="1607.50" y2="973.45"/>
<line x1="1672.50" y1="960.25" x2="1672.50" y2="973.45"/>
<line x1="1737.50" y1="960.25" x2="1737.50" y2="973.45"/>
<line x1="197.95" y1="661.50" x2="211.15" y2="661.50"/>
<line x1="197.95" y1="687.50" x2="211.15" y2="687.50"/>
<line x1="197.95" y1="713.50" x2="211.15" y2="713.50"/>
<line x1="197.95" y1="739.50" x2="211.15" y2="739.50"/>
<line x1="197.95" y1="765.50" x2="211.15" y2="765.50"/>
<line x1="197.95" y1="791.50" x2="211.15" y2="791.50"/>
<line x1="197.95" y1="817.50" x2="211.15" y2="817.50"/>
<line x1="197.95" y1="843.50" x2="211.15" y2="843.50"/>
<line x1="197.95" y1="869.50" x2="211.15" y2="869.50"/>
<line x1="197.95" y1="895.50" x2="211.15" y2="895.50"/>
<line x1="197.95" y1="921.50" x2="211.15" y2="921.50"/>
<line x1="197.95" y1="947.50" x2="211.15" y2="947.50"/>
</g>
<path class="spine" d="M211.15 647.40V960.50H1770.30"/>
<g class="ylab">
<text x="69.60" y="673.51" font-size="34.00" textLength="121.29" lengthAdjust="spacingAndGlyphs">2024-01</text>
<text x="69.60" y="725.55" font-size="34.00" textLength="121.29" lengthAdjust="spacingAndGlyphs">2024-03</text>
<text x="69.60" y="777.59" font-size="34.00" textLength="121.29" lengthAdjust="spacingAndGlyphs">2024-05</text>
<text x="69.60" y="829.64" font-size="34.00" textLength="121.29" lengthAdjust="spacingAndGlyphs">2024-07</text>
<text x="69.60" y="881.68" font-size="34.00" textLength="121.29" lengthAdjust="spacingAndGlyphs">2024-09</text>
<text x="69.60" y="933.72" font-size="34.00" textLength="121.29" lengthAdjust="spacingAndGlyphs">2024-11</text>
</g>
<g class="xlab">
<text x="205.58" y="1003.80" font-size="32.00" textLength="77.61" lengthAdjust="spacingAndGlyphs">12am</text>
<text x="343.34" y="1003.80" font-size="32.00" textLength="60.61" lengthAdjust="spacingAndGlyphs">2am</text>
<text x="472.46" y="1003.80" font-size="32.00" textLength="61.52" lengthAdjust="spacingAndGlyphs">4am</text>
<text x="602.26" y="1003.80" font-size="32.00" textLength="61.72" lengthAdjust="spacingAndGlyphs">6am</text>
<text x="731.72" y="1003.80" font-size="32.00" textLength="61.46" lengthAdjust="spacingAndGlyphs">8am</text>
<text x="854.79" y="1003.80" font-size="32.00" textLength="77.18" lengthAdjust="spacingAndGlyphs">10am</text>
<text x="983.48" y="1003.80" font-size="32.00" textLength="80.58" lengthAdjust="spacingAndGlyphs">12pm</text>
<text x="1121.27" y="1003.80" font-size="32.00" textLength="63.57" lengthAdjust="spacingAndGlyphs">2pm</text>
<text x="1250.42" y="1003.80" font-size="32.00" textLength="64.45" lengthAdjust="spacingAndGlyphs">4pm</text>
<text x="1380.18" y="1003.80" font-size="32.00" textLength="64.70" lengthAdjust="spacingAndGlyphs">6pm</text>
<text x="1510.45" y="1003.80" font-size="32.00" textLength="64.42" lengthAdjust="spacingAndGlyphs">8pm</text>
<text x="1632.70" y="1003.80" font-size="32.00" textLength="80.15" lengthAdjust="spacingAndGlyphs">10pm</text>
</g>
<rect x="1801.15" y="269.1" width="31.0" height="614.8" fill="url(#cb)" stroke="#787878" stroke-width="2"/>
<g class="tick"><line x1="1833" y1="269.4" x2="1845.2" y2="269.4"/><line x1="1833" y1="883.7" x2="1845.2" y2="883.7"/></g>
<text y="285.00" font-size="42"><tspan x="1852.57" textLength="65.30" lengthAdjust="spacingAndGlyphs">180</tspan></text>
<text y="899.20" font-size="42"><tspan x="1854.07" textLength="68.93" lengthAdjust="spacingAndGlyphs">−25</tspan></text>
<text y="0.00" font-size="42" transform="translate(1901.50 0) rotate(90)"><tspan x="329.35" textLength="197.52" lengthAdjust="spacingAndGlyphs">Normalised</tspan> <tspan x="538.78" textLength="145.04" lengthAdjust="spacingAndGlyphs" stroke="#222222" stroke-width="0.33" stroke-linejoin="round">Revenue</tspan> <tspan x="698.69" textLength="127.25" lengthAdjust="spacingAndGlyphs">($/MW)</tspan></text>
<text class="foot" y="1085.00" font-size="25"><tspan x="107.31" textLength="98.73" lengthAdjust="spacingAndGlyphs" font-weight="bold">Sources:</tspan> <tspan x="212.50" textLength="74.66" lengthAdjust="spacingAndGlyphs">AEMO,</tspan> <tspan x="292.46" textLength="95.93" lengthAdjust="spacingAndGlyphs">OptiGrid</tspan></text>
<text class="foot" y="1114.00" font-size="25"><tspan x="106.17" textLength="66.83" lengthAdjust="spacingAndGlyphs" font-weight="bold">Note:</tspan> <tspan x="178.51" textLength="78.69" lengthAdjust="spacingAndGlyphs">Battery</tspan> <tspan x="264.57" textLength="98.76" lengthAdjust="spacingAndGlyphs">revenues</tspan> <tspan x="369.56" textLength="34.01" lengthAdjust="spacingAndGlyphs">are</tspan> <tspan x="409.50" textLength="122.02" lengthAdjust="spacingAndGlyphs">normalised</tspan> <tspan x="537.75" textLength="80.37" lengthAdjust="spacingAndGlyphs">against</tspan> <tspan x="626.50" textLength="48.90" lengthAdjust="spacingAndGlyphs">their</tspan> <tspan x="681.25" textLength="116.75" lengthAdjust="spacingAndGlyphs">nameplate</tspan> <tspan x="805.26" textLength="67.58" lengthAdjust="spacingAndGlyphs">power</tspan> <tspan x="879.77" textLength="95.00" lengthAdjust="spacingAndGlyphs">capacity.</tspan></text>
<g class="logo">
<clipPath id="lc"><path d="M1690 1010H1732V1081H1690Z M1732 1057.2H1780V1125H1732Z"/></clipPath>
<path d="M1731.60 1051.90L1765.43 1051.90A3.00 3.00 0 0 1 1768.06 1056.35L1735.30 1115.94A1.60 1.60 0 0 1 1732.30 1115.17L1732.30 1086.20L1697.92 1086.20A3.00 3.00 0 0 1 1695.30 1081.73L1728.23 1023.01A1.80 1.80 0 0 1 1731.60 1023.89Z" fill="#0e5a9c"/>
<circle cx="1731.70" cy="1069.05" r="19.85" fill="none" stroke="#ffffff" stroke-width="5.7" clip-path="url(#lc)"/>
<g transform="translate(1731.50 1069.10)">
<ellipse cx="0" cy="0" rx="12.7" ry="13.3" fill="#ffffff"/>
<g fill="#0e5a9c" stroke="none">
<rect x="-13.60" y="-2.3" width="3.6" height="4.6"/>
<path d="M-7.20 -12.20L-4.90 -6.60L-6.10 -6.00L-9.60 -10.60Z"/>
<path d="M-7.20 12.20L-4.90 6.60L-6.10 6.00L-9.60 10.60Z"/>
<rect x="10.00" y="-2.3" width="3.6" height="4.6"/>
<path d="M7.20 -12.20L4.90 -6.60L6.10 -6.00L9.60 -10.60Z"/>
<path d="M7.20 12.20L4.90 6.60L6.10 6.00L9.60 10.60Z"/>
</g>
<g fill="none" stroke="#0e5a9c" stroke-width="1.25" stroke-linecap="round">
<path d="M0 -13.3V13.3" stroke-width="1.4" stroke-linecap="butt"/>
<path d="M-6 0H6"/>
<path d="M-8.40 -4.9Q-7.20 -2 -6.00 0Q-7.20 2 -8.40 4.9"/>
<path d="M0 -5.4L-3.50 -8.7"/>
<path d="M0 5.4L-3.60 8.4"/>
<path d="M8.40 -4.9Q7.20 -2 6.00 0Q7.20 2 8.40 4.9"/>
<path d="M0 -5.4L3.50 -8.7"/>
<path d="M0 5.4L3.60 8.4"/>
</g>
</g>
<text x="1767.69" y="1084.9" font-size="35.7" font-weight="bold" textLength="196.42" lengthAdjust="spacingAndGlyphs" style="fill:#0e5a9c">OPTIGRID</text>
<text x="1963.2" y="1064.5" font-size="6.6" style="fill:#0e5a9c">®</text>
</g>

</svg>
</body></html>
